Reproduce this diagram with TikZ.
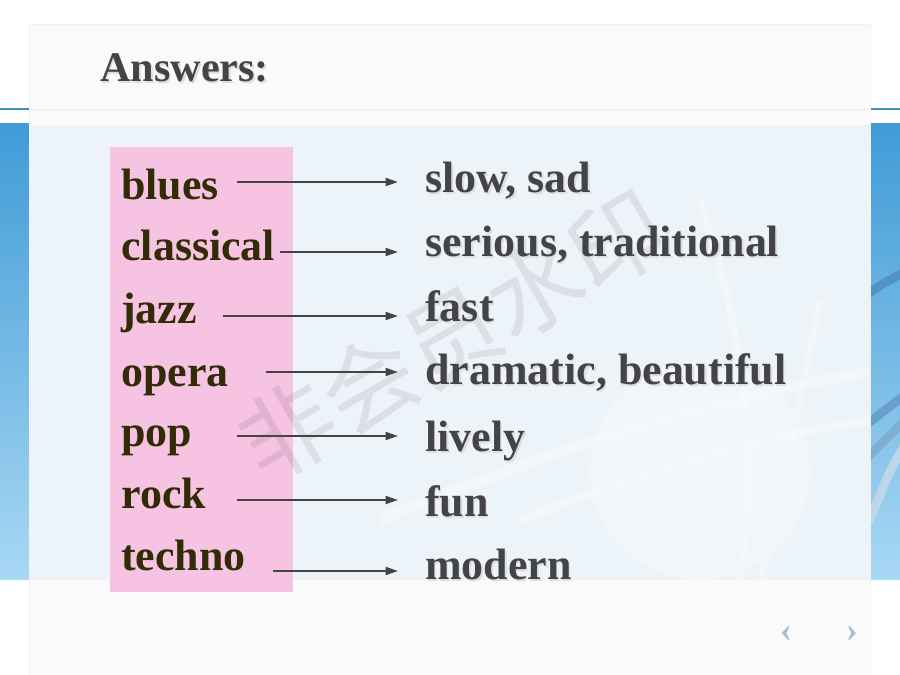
\documentclass[tikz,border=0pt]{standalone}
\usepackage{fontspec}
\setmainfont{Liberation Serif}
\newfontfamily\markfont{Noto Sans CJK SC}
\usetikzlibrary{arrows.meta}

\definecolor{wordink}{RGB}{50,44,6}
\definecolor{answerink}{RGB}{68,68,72}
\definecolor{boxpink}{RGB}{246,195,227}
\definecolor{panelblue}{RGB}{237,244,249}
\definecolor{paneltop}{RGB}{250,250,250}
\definecolor{stripdark}{RGB}{64,155,214}
\definecolor{striplight}{RGB}{168,216,244}
\definecolor{tubeblue}{RGB}{40,120,180}
\definecolor{rulerblue}{RGB}{60,142,200}
\definecolor{navgray}{RGB}{165,190,212}

\newcommand{\shadowed}[1]{\rlap{\hspace{0.9pt}\raisebox{-0.9pt}{\textcolor{black!13}{#1}}}#1}

\tikzset{
  word/.style={anchor=base west, inner sep=0pt, font=\fontsize{25}{30}\selectfont\bfseries, text=wordink},
  answer/.style={anchor=base west, inner sep=0pt, font=\fontsize{25}{30}\selectfont\bfseries, text=answerink},
  pointer/.style={-{Triangle[length=7pt,width=4.5pt]}, line width=1.1pt, draw=answerink, shorten >=0.54cm},
  tube/.style={line width=5pt, line cap=round}
}

\begin{document}
\begin{tikzpicture}[x=0.02cm,y=-0.02cm]
    \useasboundingbox (0,0) rectangle (900,675);
    \fill[white] (0,0) rectangle (900,675);

    \shade[top color=stripdark, bottom color=striplight] (0,124) rectangle (30,580);
    \shade[top color=stripdark, bottom color=striplight] (870,124) rectangle (900,580);
    \begin{scope}
        \clip (870,124) rectangle (900,580);
        \draw[tube, tubeblue!80] (860,300) .. controls (880,285) .. (905,272);
        \draw[tube, tubeblue!70] (860,430) .. controls (885,410) .. (905,395);
        \draw[tube, tubeblue!60] (865,460) .. controls (885,440) .. (905,420);
        \draw[tube, white!70!tubeblue] (870,520) .. controls (890,470) .. (905,445);
    \end{scope}
    \draw[rulerblue, line width=1.2pt] (0,109) -- (30,109);
    \draw[rulerblue, line width=1.2pt] (870,109) -- (900,109);

    \fill[black!5] (29,24) rectangle (871,675);
    \fill[paneltop] (30,25) rectangle (870,675);
    \fill[panelblue] (30,125) rectangle (870,580);
    \draw[black!7] (30,109) -- (870,109);
    \begin{scope}
        \clip (30,125) rectangle (870,580);
        \draw[white, line width=6pt, opacity=0.35] (380,520) .. controls (600,430) and (760,390) .. (880,370);
        \draw[white, line width=5pt, opacity=0.3] (520,520) .. controls (650,470) and (780,430) .. (880,420);
        \draw[white, line width=4pt, opacity=0.3] (700,200) .. controls (740,320) and (760,450) .. (740,580);
        \draw[white, line width=4pt, opacity=0.25] (820,300) .. controls (800,400) and (780,500) .. (760,580);
        \fill[white, opacity=0.2] (700,470) circle (110);
    \end{scope}

    \fill[boxpink] (110,147) rectangle (293,592);

    \node[rotate=30, text=black, text opacity=0.08, font=\markfont\fontsize{54}{54}\selectfont] (mark) at (452,336) {非会员水印};

    \node[anchor=base west, inner sep=0pt, font=\fontsize{24}{28}\selectfont\bfseries, text=answerink] (title) at (100,82) {\shadowed{Answers:}};

    \node[word] (blues) at (121,200) {blues};
    \node[word] (classical) at (121,261) {classical};
    \node[word] (jazz) at (121,324) {jazz};
    \node[word] (opera) at (121,387) {opera};
    \node[word] (pop) at (121,447) {pop};
    \node[word] (rock) at (121,509) {rock};
    \node[word] (techno) at (121,571) {techno};

    \node[answer] (slow) at (425,193) {\shadowed{slow, sad}};
    \node[answer] (serious) at (425,257) {\shadowed{serious, traditional}};
    \node[answer] (fast) at (425,322) {\shadowed{fast}};
    \node[answer] (dramatic) at (425,385) {\shadowed{dramatic, beautiful}};
    \node[answer] (lively) at (425,452) {\shadowed{lively}};
    \node[answer] (fun) at (425,517) {\shadowed{fun}};
    \node[answer] (modern) at (425,580) {\shadowed{modern}};

    \coordinate (blues-out) at (237,182);
    \coordinate (classical-out) at (280,252);
    \coordinate (jazz-out) at (223,316);
    \coordinate (opera-out) at (266,372);
    \coordinate (pop-out) at (237,436);
    \coordinate (rock-out) at (237,500);
    \coordinate (techno-out) at (273,571);

    \draw[pointer] (blues-out) -- (blues-out -| slow.west);
    \draw[pointer] (classical-out) -- (classical-out -| serious.west);
    \draw[pointer] (jazz-out) -- (jazz-out -| fast.west);
    \draw[pointer] (opera-out) -- (opera-out -| dramatic.west);
    \draw[pointer] (pop-out) -- (pop-out -| lively.west);
    \draw[pointer] (rock-out) -- (rock-out -| fun.west);
    \draw[pointer] (techno-out) -- (techno-out -| modern.west);

    \node[text=navgray, font=\bfseries\fontsize{20}{20}\selectfont] (prev) at (786,634) {‹};
    \node[text=navgray, font=\bfseries\fontsize{20}{20}\selectfont] (next) at (852,634) {›};
\end{tikzpicture}
\end{document}
